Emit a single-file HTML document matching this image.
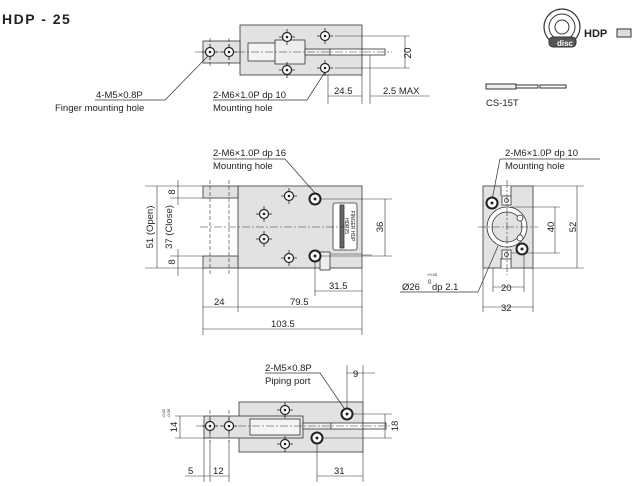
<!DOCTYPE html>
<html><head><meta charset="utf-8"><style>
html,body{margin:0;padding:0;background:#fff;}
svg{display:block;font-family:"Liberation Sans",sans-serif;}
text{fill:#222;}
</style></head><body>
<svg width="634" height="486" viewBox="0 0 634 486" xmlns="http://www.w3.org/2000/svg">
<defs>
<g id="h"><circle r="4.5" fill="#fff" stroke="#222" stroke-width="1.2"/><circle r="1.3" fill="#222"/><path d="M-8 0H-5M5 0H8M0 -8V-5M0 5V8" stroke="#222" stroke-width="0.8"/></g>
<g id="hb"><circle r="5.5" fill="#fff" stroke="#222" stroke-width="2"/><circle r="1.5" fill="#222"/></g>
</defs>
<text x="2" y="24" font-size="14" font-weight="bold" letter-spacing="1.5">HDP - 25</text>

<!-- TOP VIEW -->
<g stroke="#333" stroke-width="0.8">
<rect x="240" y="25" width="122" height="50" fill="#e2e2e2"/>
<rect x="203" y="41" width="37" height="22" fill="#e2e2e2"/>
<rect x="248" y="43" width="57" height="18" fill="#f4f4f4"/>
<rect x="275" y="40" width="30" height="24" fill="#eee"/>
<rect x="305" y="49" width="25" height="6" fill="#eee"/>
<rect x="330" y="49" width="32" height="6" fill="#fff"/>
<rect x="362" y="49" width="23" height="6" fill="#fff"/>
<path d="M195 52H392" stroke-dasharray="8 2 2 2" stroke-width="0.6"/>
<path d="M210 38V66M229 38V66" stroke-dasharray="4 2" stroke-width="0.6"/>
<path d="M335 36H410M335 68H410M405 36V68" stroke-width="0.6"/>
<path d="M328 75V104M362 75V104M370 55V104M328 96H362M370 96H430" stroke-width="0.6"/>
<path d="M95 100H165L208 56" fill="none" stroke-width="0.7"/>
<path d="M213 100H307L325 72" fill="none" stroke-width="0.7"/>
</g>
<use href="#h" x="210" y="52"/><use href="#h" x="229" y="52"/>
<use href="#h" x="287" y="37"/><use href="#h" x="287" y="70"/>
<use href="#h" x="325" y="36"/><use href="#h" x="325" y="68"/>
<text x="411" y="53" font-size="10" transform="rotate(-90 411 53)" text-anchor="middle">20</text>
<text x="96" y="98" font-size="9.5">4-M5×0.8P</text>
<text x="55" y="111" font-size="9.5">Finger mounting hole</text>
<text x="213" y="98" font-size="9.5">2-M6×1.0P dp 10</text>
<text x="213" y="111" font-size="9.5">Mounting hole</text>
<text x="334" y="94" font-size="9.5">24.5</text>
<text x="383" y="94" font-size="9.5">2.5 MAX</text>

<!-- ICONS -->
<g stroke="#333" fill="none">
<circle cx="562" cy="27" r="18" stroke-width="1.2"/><circle cx="562" cy="27" r="13"/><circle cx="562" cy="27" r="7"/>
<rect x="549" y="37" width="27" height="10" rx="4" fill="#555"/>
<rect x="617" y="29" width="14" height="8" fill="#ddd"/>
<rect x="486" y="84" width="30" height="5" fill="#eee"/><rect x="516" y="85" width="22" height="3"/><rect x="540" y="85" width="26" height="3"/>
</g>
<text x="557" y="46" font-size="8" style="fill:#fff" font-weight="bold">disc</text>
<text x="584" y="37" font-size="11" font-weight="bold">HDP</text>
<text x="486" y="106" font-size="9.5">CS-15T</text>

<!-- FRONT VIEW -->
<g stroke="#333" stroke-width="0.8">
<rect x="238" y="186" width="124" height="82" fill="#e2e2e2"/>
<rect x="203" y="186" width="35" height="12" fill="#e2e2e2"/>
<rect x="203" y="256" width="35" height="12" fill="#e2e2e2"/>
<rect x="333" y="203" width="24" height="47" fill="#fff" rx="2"/>
<rect x="340" y="205" width="4" height="43" fill="#666"/>
<rect x="320" y="252" width="10" height="18" fill="#eee"/>
<path d="M330 254H362M362 255H372" stroke-width="0.6"/>
<path d="M200 227H350" stroke-dasharray="8 2 2 2" stroke-width="0.6"/>
<path d="M210 180V276M229 180V276" stroke-dasharray="4 2" stroke-width="0.6"/>
<path d="M145 186H203M145 268H203M170 198H203M170 256H203M157 186V268M178 180V205M178 249V276" stroke-width="0.6"/>
<path d="M320 199H392M320 256H392M385 199V256" stroke-width="0.6"/>
<path d="M203 268V335M238 268V312M362 268V335M315 262V296M203 307H362M203 329H362M315 291H362" stroke-width="0.6"/>
<path d="M213 159H285L315 193" fill="none" stroke-width="0.7"/>
</g>
<use href="#h" x="289" y="196"/><use href="#h" x="264" y="214"/><use href="#h" x="264" y="239"/><use href="#h" x="289" y="258"/>
<use href="#hb" x="315" y="199"/><use href="#hb" x="315" y="256"/>
<text font-size="5" transform="translate(351 226) rotate(90)" text-anchor="middle">FINGER HDP</text>
<text font-size="5" transform="translate(345 226) rotate(90)" text-anchor="middle">HDP25</text>
<text x="213" y="156" font-size="9.5">2-M6×1.0P dp 16</text>
<text x="213" y="169" font-size="9.5">Mounting hole</text>
<text x="175" y="192" font-size="9.5" transform="rotate(-90 175 192)" text-anchor="middle">8</text>
<text x="175" y="262" font-size="9.5" transform="rotate(-90 175 262)" text-anchor="middle">8</text>
<text x="153" y="227" font-size="9.5" transform="rotate(-90 153 227)" text-anchor="middle">51 (Open)</text>
<text x="172" y="227" font-size="9.5" transform="rotate(-90 172 227)" text-anchor="middle">37 (Close)</text>
<text x="383" y="227" font-size="9.5" transform="rotate(-90 383 227)" text-anchor="middle">36</text>
<text x="329" y="289" font-size="9.5">31.5</text>
<text x="214" y="305" font-size="9.5">24</text>
<text x="290" y="305" font-size="9.5">79.5</text>
<text x="271" y="327" font-size="9.5">103.5</text>

<!-- SIDE VIEW -->
<g stroke="#333" stroke-width="0.8">
<rect x="483" y="186" width="50" height="82" fill="#e2e2e2"/>
<rect x="501" y="186" width="10" height="10" fill="#fff" stroke="none"/>
<rect x="501" y="258" width="10" height="10" fill="#fff" stroke="none"/>
<path d="M501 186V196M511 186V196M501 258V268M511 258V268"/>
<circle cx="507" cy="227" r="20" fill="#fff"/>
<circle cx="507" cy="227" r="15" fill="#e2e2e2"/>
<circle cx="520" cy="218" r="3" fill="#fff"/><circle cx="520" cy="238" r="3" fill="#fff"/>
<rect x="502" y="196" width="9" height="9" fill="#fff"/><circle cx="506.5" cy="200.5" r="2" fill="none"/>
<rect x="502" y="250" width="9" height="9" fill="#fff"/><circle cx="506.5" cy="254.5" r="2" fill="none"/>
<path d="M478 227H538M507 180V275" stroke-dasharray="8 2 2 2" stroke-width="0.6"/>
<path d="M533 186H584M533 268H584M577 186V268M511 207H560M511 253H560M555 207V253" stroke-width="0.6"/>
<path d="M493 268V292M524 250V292M483 268V312M533 268V312M493 287H524M483 307H533" stroke-width="0.6"/>
<path d="M500 159H600M500 159L492 200M478 292L498 246M400 292H478" fill="none" stroke-width="0.7"/>
</g>
<use href="#hb" x="492" y="203"/><use href="#hb" x="522" y="249"/>
<text x="505" y="156" font-size="9.5">2-M6×1.0P dp 10</text>
<text x="505" y="169" font-size="9.5">Mounting hole</text>
<text x="554" y="227" font-size="9.5" transform="rotate(-90 554 227)" text-anchor="middle">40</text>
<text x="576" y="227" font-size="9.5" transform="rotate(-90 576 227)" text-anchor="middle">52</text>
<text x="402" y="290" font-size="9.5">Ø26</text>
<text x="427" y="276" font-size="4">+0.05</text>
<text x="428" y="284" font-size="6">0</text>
<text x="432" y="290" font-size="9.5">dp 2.1</text>
<text x="501" y="291" font-size="9.5">20</text>
<text x="501" y="311" font-size="9.5">32</text>

<!-- BOTTOM VIEW -->
<g stroke="#333" stroke-width="0.8">
<rect x="239" y="402" width="124" height="50" fill="#e2e2e2"/>
<rect x="204" y="416" width="99" height="22" fill="#e2e2e2"/>
<rect x="250" y="419" width="50" height="16" fill="#f4f4f4"/>
<rect x="303" y="423" width="28" height="6" fill="#eee"/>
<rect x="331" y="423" width="32" height="6" fill="#fff"/>
<rect x="363" y="423" width="23" height="6" fill="#fff"/>
<path d="M196 426H392" stroke-dasharray="8 2 2 2" stroke-width="0.6"/>
<path d="M210 410V442M229 410V442" stroke-dasharray="4 2" stroke-width="0.6"/>
<path d="M175 416H204M175 438H204M180 416V438" stroke-width="0.6"/>
<path d="M352 414H392M322 438H392M385 414V438" stroke-width="0.6"/>
<path d="M347 365V410M363 365V402M347 373H375" stroke-width="0.6"/>
<path d="M204 438V482M210 440V482M229 440V482M317 444V482M363 452V482M185 476H229M317 476H363" stroke-width="0.6"/>
<path d="M265 373H320L344 408" fill="none" stroke-width="0.7"/>
</g>
<use href="#h" x="210" y="426"/><use href="#h" x="229" y="426"/>
<use href="#h" x="285" y="410"/><use href="#h" x="285" y="444"/>
<use href="#hb" x="347" y="414"/><use href="#hb" x="317" y="438"/>
<text x="265" y="371" font-size="9.5">2-M5×0.8P</text>
<text x="265" y="384" font-size="9.5">Piping port</text>
<text x="353" y="377" font-size="9.5">9</text>
<text x="177" y="427" font-size="9.5" transform="rotate(-90 177 427)" text-anchor="middle">14</text>
<text x="165" y="418" font-size="4" transform="rotate(-90 165 418)">-0.02</text>
<text x="170" y="418" font-size="4" transform="rotate(-90 170 418)">-0.05</text>
<text x="398" y="426" font-size="9.5" transform="rotate(-90 398 426)" text-anchor="middle">18</text>
<text x="188" y="474" font-size="9.5">5</text>
<text x="213" y="474" font-size="9.5">12</text>
<text x="334" y="474" font-size="9.5">31</text>
</svg>
</body></html>
